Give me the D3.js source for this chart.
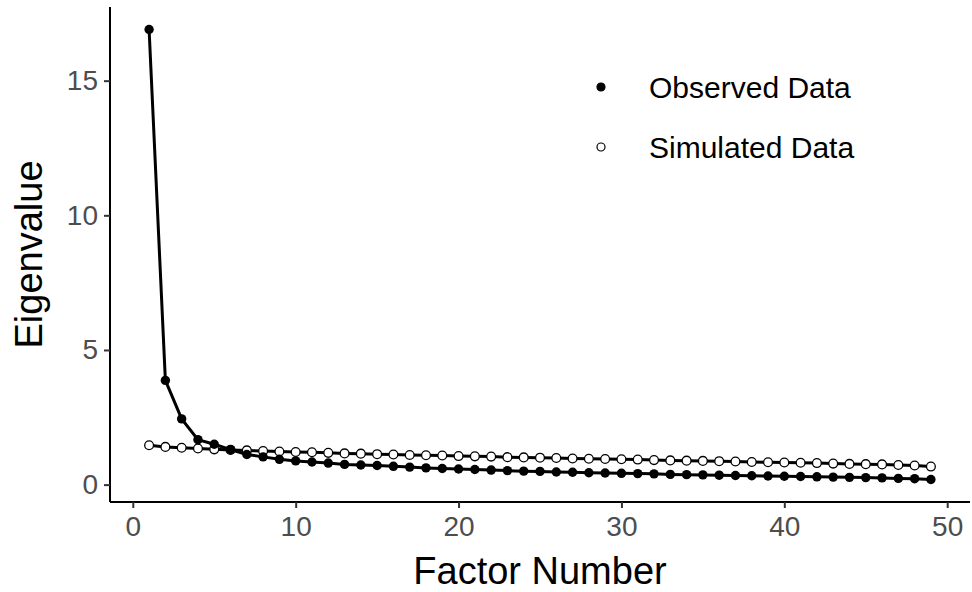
<!DOCTYPE html>
<html>
<head>
<meta charset="utf-8">
<script src="https://cdn.jsdelivr.net/npm/d3@7"></script>
<style>
  body { margin: 0; background: #fff; }
  svg { font-family: "Liberation Sans", Arial, sans-serif; }
</style>
</head>
<body>
<div id="graph"></div>
<script>
// factor numbers and eigenvalues
var factors = d3.range(1, 50)
var observed = [16.90, 3.87, 2.44, 1.67, 1.50, 1.30, 1.12, 1.03, 0.94, 0.88,
  0.84, 0.80, 0.75, 0.73, 0.71, 0.68, 0.65, 0.62, 0.60, 0.58,
  0.56, 0.54, 0.52, 0.50, 0.49, 0.47, 0.46, 0.44, 0.43, 0.42,
  0.41, 0.40, 0.38, 0.37, 0.36, 0.35, 0.34, 0.33, 0.32, 0.31,
  0.30, 0.29, 0.28, 0.27, 0.26, 0.25, 0.23, 0.22, 0.19]
var simulated = [1.46, 1.40, 1.37, 1.34, 1.31, 1.29, 1.27, 1.25, 1.23, 1.21,
  1.20, 1.18, 1.16, 1.15, 1.13, 1.12, 1.10, 1.09, 1.08, 1.06,
  1.05, 1.04, 1.02, 1.01, 1.00, 0.99, 0.97, 0.96, 0.95, 0.94,
  0.93, 0.91, 0.90, 0.89, 0.88, 0.87, 0.86, 0.84, 0.83, 0.82,
  0.81, 0.80, 0.78, 0.77, 0.76, 0.75, 0.73, 0.71, 0.67]
var xTicks = [0, 10, 20, 30, 40, 50]
var yTicks = [0, 5, 10, 15]
var legendLabels = ["Observed Data", "Simulated Data"]

var width = 972, height = 592
var pLeft = 110, pRight = 970, pTop = 7, pBottom = 502

var svg = d3.select("#graph").append("svg")
  .attr("width", width)
  .attr("height", height)

// ggplot style 5% expansion
var xMin = d3.min(factors), xMax = d3.max(factors)
var xPad = (xMax - xMin) * 0.05
var xScale = d3.scaleLinear()
  .domain([xMin - xPad, xMax + xPad])
  .range([pLeft, pRight])

var yMin = d3.min(observed.concat(simulated)), yMax = d3.max(observed.concat(simulated))
var yPad = (yMax - yMin) * 0.05
var yScale = d3.scaleLinear()
  .domain([yMin - yPad, yMax + yPad])
  .range([pBottom, pTop])

var line = d3.line()
  .x(function(d) { return xScale(d[0]); })
  .y(function(d) { return yScale(d[1]); })

var obsData = factors.map(function(f, i) { return [f, observed[i]]; })
var simData = factors.map(function(f, i) { return [f, simulated[i]]; })

// lines
svg.append("path")
  .datum(simData)
  .attr("d", line)
  .attr("fill", "none")
  .attr("stroke", "#000")
  .attr("stroke-width", 3)

svg.append("path")
  .datum(obsData)
  .attr("d", line)
  .attr("fill", "none")
  .attr("stroke", "#000")
  .attr("stroke-width", 3)

// points
svg.append("g").selectAll("circle")
  .data(simData)
  .enter().append("circle")
  .attr("cx", function(d) { return xScale(d[0]); })
  .attr("cy", function(d) { return yScale(d[1]); })
  .attr("r", 4.4)
  .attr("fill", "#fff")
  .attr("stroke", "#000")
  .attr("stroke-width", 1.3)

svg.append("g").selectAll("circle")
  .data(obsData)
  .enter().append("circle")
  .attr("cx", function(d) { return xScale(d[0]); })
  .attr("cy", function(d) { return yScale(d[1]); })
  .attr("r", 4.7)
  .attr("fill", "#000")

// axes
var xAxis = svg.append("g")
  .attr("transform", "translate(0," + pBottom + ")")
  .call(d3.axisBottom(xScale).tickValues(xTicks).tickSize(6).tickPadding(6))
var yAxis = svg.append("g")
  .attr("transform", "translate(" + pLeft + ",0)")
  .call(d3.axisLeft(yScale).tickValues(yTicks).tickSize(6).tickPadding(6))

xAxis.select(".domain").attr("d", "M" + pLeft + ",0H" + pRight)
yAxis.select(".domain").attr("d", "M0," + pTop + "V" + pBottom)

;[xAxis, yAxis].forEach(function(ax) {
  ax.select(".domain").attr("stroke", "#000").attr("stroke-width", 2)
  ax.selectAll(".tick line").attr("stroke", "#333").attr("stroke-width", 2)
  ax.selectAll(".tick text")
    .attr("fill", "#4d4d4d")
    .style("font-size", "28px")
    .style("font-family", "Liberation Sans, Arial, sans-serif")
})
xAxis.selectAll(".tick text").attr("dy", "0.78em")

// axis titles
svg.append("text")
  .attr("x", (pLeft + pRight) / 2)
  .attr("y", 584)
  .attr("text-anchor", "middle")
  .style("font-size", "38px")
  .text("Factor Number")

svg.append("text")
  .attr("transform", "translate(42," + ((pTop + pBottom) / 2) + ") rotate(-90)")
  .attr("text-anchor", "middle")
  .style("font-size", "38px")
  .text("Eigenvalue")

// legend
var legend = svg.append("g")
var legY = [87, 147]
legend.selectAll("circle")
  .data(legendLabels)
  .enter().append("circle")
  .attr("cx", 601)
  .attr("cy", function(d, i) { return legY[i]; })
  .attr("r", 4)
  .attr("fill", function(d, i) { return i === 0 ? "#000" : "#fff"; })
  .attr("stroke", "#000")
  .attr("stroke-width", 1.2)

legend.selectAll("text")
  .data(legendLabels)
  .enter().append("text")
  .attr("x", 649)
  .attr("y", function(d, i) { return legY[i]; })
  .attr("dy", "0.36em")
  .style("font-size", "30px")
  .text(function(d) { return d; })
</script>
</body>
</html>
